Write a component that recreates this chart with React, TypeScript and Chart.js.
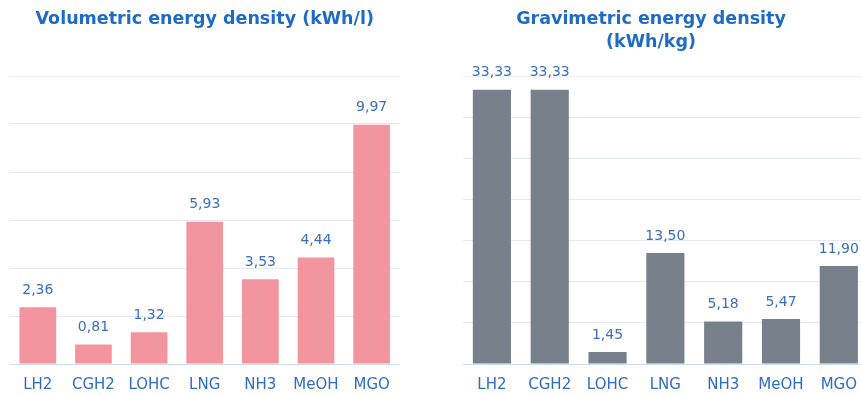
import React, { useEffect, useRef } from "react";
import { Chart, registerables } from "chart.js";

Chart.register(...registerables);

const categories = ["LH2", "CGH2", "LOHC", "LNG", "NH3", "MeOH", "MGO"];
const volumetricValues = [2.36, 0.81, 1.32, 5.93, 3.53, 4.44, 9.97];
const gravimetricValues = [33.33, 33.33, 1.45, 13.5, 5.18, 5.47, 11.9];

const volumetricTitle = ["Volumetric energy density (kWh/l)"];
const gravimetricTitle = ["Gravimetric energy density", "(kWh/kg)"];

const FONT = "'DejaVu Sans', sans-serif";
const TITLE_BLUE = "#1f6bc4";
const LABEL_BLUE = "#2f6cc0";
const VALUE_BLUE = "#3a6fbd";

const formatValue = (v: number) => v.toFixed(2).replace(".", ",");

// Writes each bar's value above it, with a decimal comma
const valueLabels = {
  id: "valueLabels",
  afterDatasetsDraw(chart: any) {
    const { ctx } = chart;
    const meta = chart.getDatasetMeta(0);
    const data = chart.data.datasets[0].data as number[];
    ctx.save();
    ctx.font = `14px ${FONT}`;
    ctx.fillStyle = VALUE_BLUE;
    ctx.textAlign = "center";
    ctx.textBaseline = "middle";
    meta.data.forEach((bar: any, i: number) => {
      ctx.fillText(formatValue(data[i]), bar.x, bar.y - 17);
    });
    ctx.restore();
  },
};

interface PanelProps {
  left: number;
  width: number;
  axisWidth: number;
  title: string[];
  titleFullSize: boolean;
  values: number[];
  max: number;
  step: number;
  color: string;
}

function Panel({ left, width, axisWidth, title, titleFullSize, values, max, step, color }: PanelProps) {
  const ref = useRef<HTMLCanvasElement>(null);
  const height = 396;

  useEffect(() => {
    if (!ref.current) return;
    const titleSize = 17.5;
    const titleLine = 1.3;
    const titleTop = 8;
    const plotTop = 76;
    const titleBottom = plotTop - titleTop - title.length * titleSize * titleLine;

    const chart = new Chart(ref.current, {
      type: "bar",
      data: {
        labels: categories,
        datasets: [
          {
            data: values,
            backgroundColor: color,
            barPercentage: 0.66,
            categoryPercentage: 1,
          },
        ],
      },
      options: {
        animation: false,
        responsive: false,
        layout: { padding: { left: 0, right: 0, top: 0, bottom: 2 } },
        plugins: {
          legend: { display: false },
          tooltip: { enabled: false },
          title: {
            display: true,
            fullSize: titleFullSize,
            text: title,
            color: TITLE_BLUE,
            font: { family: FONT, size: titleSize, weight: "bold", lineHeight: titleLine },
            padding: { top: titleTop, bottom: titleBottom },
          },
        },
        scales: {
          x: {
            grid: { display: false, drawTicks: false },
            border: { display: false },
            ticks: {
              color: LABEL_BLUE,
              font: { family: FONT, size: 15 },
              padding: 12,
              maxRotation: 0,
            },
            afterFit: (scale: any) => {
              scale.height = 30;
            },
          },
          y: {
            min: 0,
            max,
            ticks: { display: false, stepSize: step },
            border: { display: false },
            grid: {
              drawTicks: false,
              lineWidth: 1,
              color: (c: any) =>
                c.tick && c.tick.value === 0
                  ? "#cddcf0"
                  : c.tick && c.tick.value === max
                  ? "#eef2f7"
                  : "#e3e9f2",
            },
            afterFit: (scale: any) => {
              scale.width = axisWidth;
            },
          },
        },
      },
      plugins: [valueLabels],
    });
    return () => chart.destroy();
  }, []);

  return (
    <canvas
      ref={ref}
      width={width}
      height={height}
      style={{ position: "absolute", left, top: 0, width, height }}
    />
  );
}

export default function App() {
  return (
    <div
      style={{
        position: "fixed",
        left: 0,
        top: 0,
        width: 861,
        height: 396,
        overflow: "hidden",
        background: "#ffffff",
      }}
    >
      <Panel
        left={0}
        width={402}
        axisWidth={10}
        title={volumetricTitle}
        titleFullSize={false}
        values={volumetricValues}
        max={12}
        step={2}
        color="#f2959f"
      />
      <Panel
        left={433}
        width={436}
        axisWidth={30}
        title={gravimetricTitle}
        titleFullSize={true}
        values={gravimetricValues}
        max={35}
        step={5}
        color="#78808c"
      />
    </div>
  );
}
